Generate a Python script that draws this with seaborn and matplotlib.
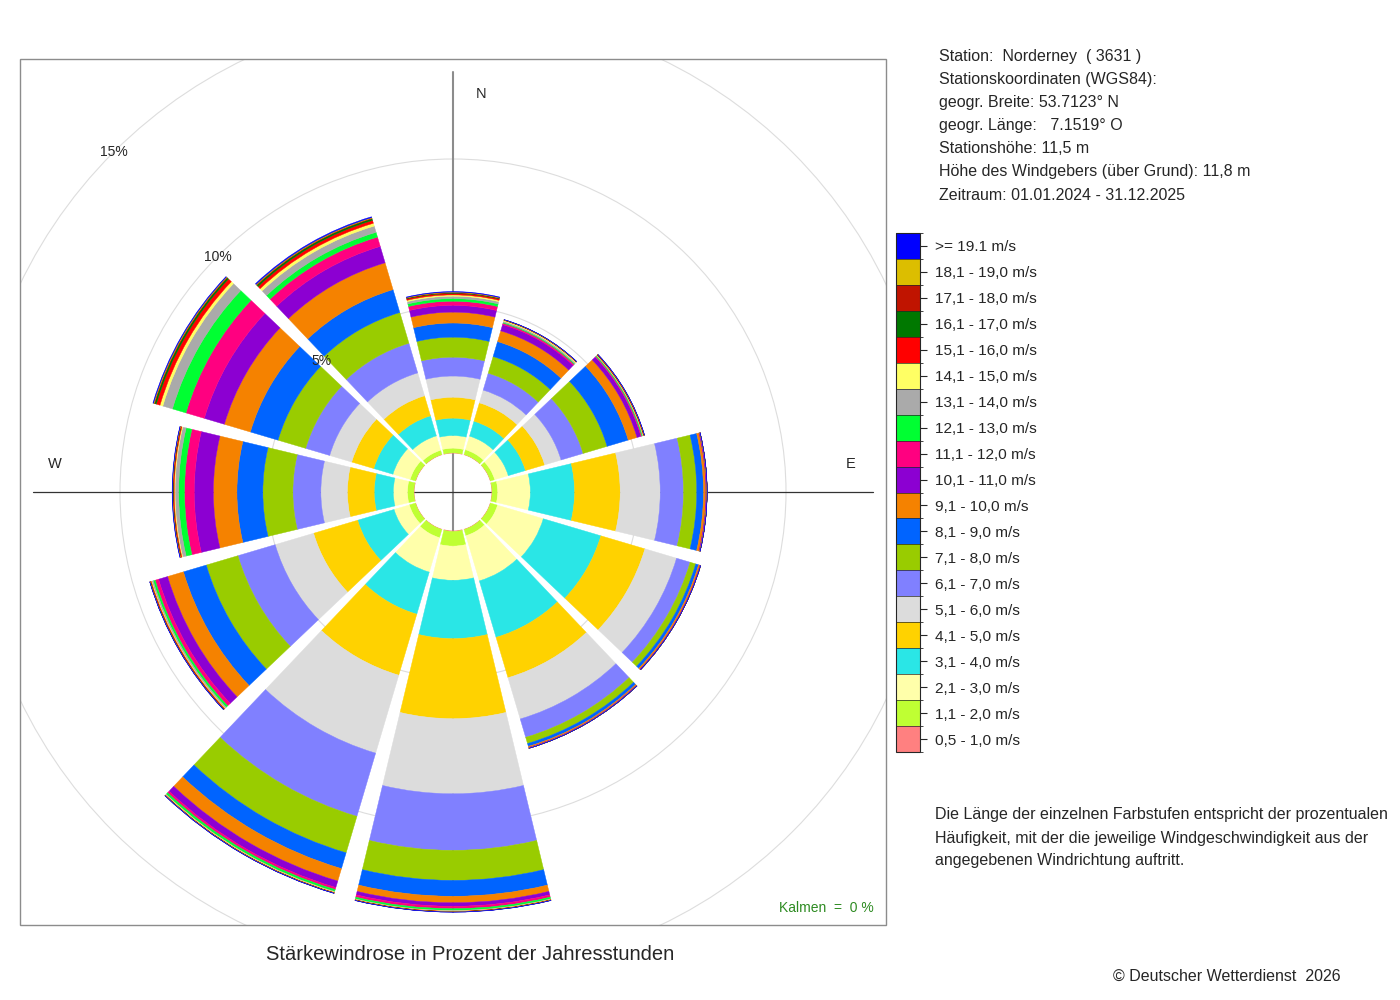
import numpy as np
import pandas as pd
import seaborn as sns
import matplotlib.pyplot as plt
from matplotlib.patches import Rectangle
from matplotlib.colors import ListedColormap, BoundaryNorm
from matplotlib.cm import ScalarMappable

# -------------------------------
# Data: share of hours per sector (%) and speed class
# -------------------------------
directions = [0, 30, 60, 90, 120, 150, 180, 210, 240, 270, 300, 330]

speed_labels = [
    "0,5 - 1,0 m/s", "1,1 - 2,0 m/s", "2,1 - 3,0 m/s", "3,1 - 4,0 m/s",
    "4,1 - 5,0 m/s", "5,1 - 6,0 m/s", "6,1 - 7,0 m/s", "7,1 - 8,0 m/s",
    "8,1 - 9,0 m/s", "9,1 - 10,0 m/s", "10,1 - 11,0 m/s", "11,1 - 12,0 m/s",
    "12,1 - 13,0 m/s", "13,1 - 14,0 m/s", "14,1 - 15,0 m/s", "15,1 - 16,0 m/s",
    "16,1 - 17,0 m/s", "17,1 - 18,0 m/s", "18,1 - 19,0 m/s", ">= 19.1 m/s",
]

class_colors = [
    "#FF8080", "#BFFF33", "#FFFFAA", "#2AE6E6", "#FFD200", "#DCDCDC",
    "#8080FF", "#99CC00", "#0064FF", "#F58200", "#8C00D2", "#FF0080",
    "#00FF32", "#AAAAAA", "#FFFF64", "#FF0000", "#007800", "#C01400",
    "#DCBE00", "#0000FF",
]

freq_000 = [0.02, 0.16, 0.43, 0.59, 0.71, 0.72, 0.64, 0.68, 0.48, 0.37,
            0.23, 0.14, 0.09, 0.08, 0.045, 0.045, 0.02, 0.015, 0.015, 0.02]
freq_030 = [0.02, 0.17, 0.48, 0.53, 0.65, 0.45, 0.60, 0.59, 0.53, 0.38,
            0.22, 0.05, 0.03, 0.04, 0.03, 0.01, 0.005, 0.005, 0.005, 0.005]
freq_060 = [0.02, 0.15, 0.48, 0.61, 0.68, 0.58, 0.78, 0.85, 0.75, 0.31,
            0.14, 0.03, 0.03, 0.02, 0.01, 0.02, 0.005, 0.005, 0.005, 0.005]
freq_090 = [0.02, 0.19, 1.11, 1.50, 1.55, 1.36, 0.79, 0.45, 0.23, 0.08,
            0.02, 0.01, 0.005, 0.005, 0.0, 0.0, 0.0, 0.0, 0.0, 0.005]
freq_120 = [0.02, 0.25, 1.62, 2.04, 1.56, 1.12, 0.48, 0.20, 0.10, 0.05,
            0.01, 0.01, 0.005, 0.0, 0.0, 0.0, 0.0, 0.0, 0.0, 0.0]
freq_150 = [0.02, 0.22, 1.60, 2.00, 1.43, 1.46, 0.65, 0.22, 0.10, 0.04,
            0.01, 0.01, 0.005, 0.0, 0.0, 0.005, 0.0, 0.0, 0.0, 0.0]
freq_180 = [0.03, 0.50, 1.16, 1.98, 2.72, 2.55, 1.92, 1.02, 0.54, 0.22,
            0.12, 0.08, 0.06, 0.02, 0.01, 0.01, 0.005, 0.005, 0.005, 0.005]
freq_210 = [0.02, 0.29, 1.22, 1.49, 2.16, 2.76, 2.24, 1.29, 0.56, 0.44,
            0.23, 0.07, 0.07, 0.02, 0.02, 0.01, 0.005, 0.005, 0.005, 0.005]
freq_240 = [0.02, 0.22, 0.54, 1.29, 1.56, 1.36, 1.32, 1.12, 0.81, 0.56,
            0.32, 0.12, 0.07, 0.05, 0.02, 0.03, 0.01, 0.005, 0.005, 0.005]
freq_270 = [0.02, 0.22, 0.48, 0.65, 0.91, 0.90, 0.95, 1.02, 0.88, 0.80,
            0.65, 0.33, 0.20, 0.12, 0.03, 0.03, 0.01, 0.01, 0.01, 0.01]
freq_300 = [0.02, 0.19, 0.61, 0.68, 0.78, 0.78, 0.85, 0.98, 0.98, 0.92,
            0.71, 0.65, 0.48, 0.34, 0.10, 0.13, 0.06, 0.02, 0.02, 0.02]
freq_330 = [0.02, 0.15, 0.51, 0.71, 0.71, 0.81, 1.05, 1.09, 0.81, 0.95,
            0.58, 0.33, 0.17, 0.22, 0.10, 0.10, 0.06, 0.02, 0.02, 0.03]

df = pd.DataFrame(
    [freq_000, freq_030, freq_060, freq_090, freq_120, freq_150,
     freq_180, freq_210, freq_240, freq_270, freq_300, freq_330],
    index=directions, columns=speed_labels,
)

grid_levels = [5, 10, 15]

# -------------------------------
# Style
# -------------------------------
sns.set_style("white")
plt.rcParams["font.family"] = ["Liberation Sans", "DejaVu Sans"]
palette = sns.color_palette(class_colors)

W, H = 1400, 1000
fig = plt.figure(figsize=(14, 10), dpi=100)

# geometry in pixels: centre, px per percent, hole radius
cx, cy = 453, 1000 - 492
px_per_pct = 29.45
hole_px = 38.5
r_origin = -hole_px / px_per_pct
r_max = 16.5
R = (r_max - r_origin) * px_per_pct

ax = fig.add_axes([(cx - R) / W, (cy - R) / H, 2 * R / W, 2 * R / H],
                  projection="polar")
ax.set_theta_zero_location("N")
ax.set_theta_direction(-1)
ax.set_rorigin(r_origin)
ax.set_ylim(0, r_max)
ax.set_axisbelow(True)
ax.patch.set_visible(False)
for sp in ax.spines.values():
    sp.set_visible(False)
    sp.set_linewidth(0)
    sp.set_edgecolor("none")

frame = Rectangle((20 / W, 75 / H), 866 / W, 866 / H, transform=fig.transFigure,
                  fill=False, edgecolor="#8c8c8c", lw=1.0)
fig.add_artist(frame)

# -------------------------------
# Stacked sector bars
# -------------------------------
theta = np.deg2rad(df.index.values)
width = np.deg2rad(27)
bottom = np.zeros(len(df))
for i, label in enumerate(speed_labels):
    vals = df[label].values
    ax.bar(theta, vals, width=width, bottom=bottom, color=palette[i],
           edgecolor=palette[i], linewidth=0.3, zorder=2)
    bottom += vals

# axes cross through the centre
r_line = 12.95
for ang, col, lw in [(0, "#8c8c8c", 1.5), (180, "#8c8c8c", 1.5),
                     (90, "#333333", 0.9), (270, "#333333", 0.9)]:
    ln, = ax.plot([np.deg2rad(ang)] * 2, [r_origin, r_line], color=col, lw=lw, zorder=1)
    ln.set_clip_path(frame)

ax.set_xticks([])
ax.set_yticks(grid_levels)
ax.set_yticklabels([])
ax.yaxis.grid(True, color="#dddddd", lw=0.8)
fig.canvas.draw()
for gl in ax.yaxis.get_gridlines():
    gl.set_clip_path(frame)

for lev in grid_levels:
    ax.text(np.deg2rad(315), lev, f"{lev}%", ha="center", va="center",
            fontsize=10, zorder=5)

r_lab = (398 - hole_px) / px_per_pct
for ang, txt, off in [(0, "N", (28, 0)), (90, "E", (0, 28)), (270, "W", (0, 28))]:
    ax.annotate(txt, xy=(np.deg2rad(ang), r_lab), xytext=off,
                textcoords="offset pixels", ha="center", va="center",
                fontsize=10.5, annotation_clip=False, zorder=1)

# -------------------------------
# Legend as colour bar
# -------------------------------
cax = fig.add_axes([896 / W, 248 / H, 24 / W, 519 / H])
cmap = ListedColormap(class_colors)
norm = BoundaryNorm(np.arange(len(class_colors) + 1), cmap.N)
cb = fig.colorbar(ScalarMappable(norm=norm, cmap=cmap), cax=cax,
                  ticks=np.arange(len(class_colors)) + 0.5, drawedges=True)
cb.ax.set_yticklabels(speed_labels)
cb.ax.tick_params(length=5, width=0.8, pad=6, labelsize=11.1, direction="out")
cb.outline.set_linewidth(0.8)
cb.dividers.set_linewidth(0.5)

# -------------------------------
# Texts
# -------------------------------
info = [
    "Station:  Norderney  ( 3631 )",
    "Stationskoordinaten (WGS84):",
    "geogr. Breite: 53.7123° N",
    "geogr. Länge:   7.1519° O",
    "Stationshöhe: 11,5 m",
    "Höhe des Windgebers (über Grund): 11,8 m",
    "Zeitraum: 01.01.2024 - 31.12.2025",
]
for k, line in enumerate(info):
    fig.text(939 / W, 1 - (56 + 23.2 * k) / H, line, ha="left", va="center", fontsize=11.5)

note = [
    "Die Länge der einzelnen Farbstufen entspricht der prozentualen",
    "Häufigkeit, mit der die jeweilige Windgeschwindigkeit aus der",
    "angegebenen Windrichtung auftritt.",
]
for k, line in enumerate(note):
    fig.text(935 / W, 1 - (815 + 23 * k) / H, line, ha="left", va="center", fontsize=11.5)

fig.text(874 / W, 1 - 908 / H, "Kalmen  =  0 %", ha="right", va="center",
         fontsize=10, color="#2e8b22")
fig.text(470 / W, 1 - 954 / H, "Stärkewindrose in Prozent der Jahresstunden",
         ha="center", va="center", fontsize=14.5)
fig.text(1341 / W, 1 - 976 / H, "© Deutscher Wetterdienst  2026",
         ha="right", va="center", fontsize=11.5)

fig.savefig("out.png", dpi=100)
